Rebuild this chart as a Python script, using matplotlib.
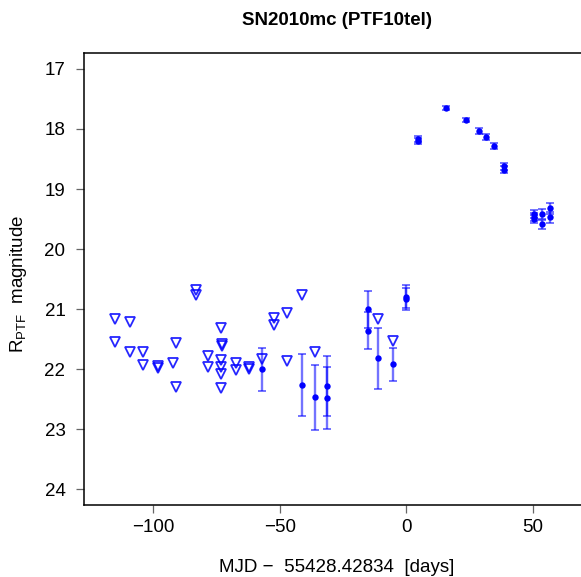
import matplotlib
matplotlib.use("Agg")
import matplotlib.pyplot as plt
import numpy as np

plt.rcParams['font.family'] = ['Liberation Sans', 'DejaVu Sans']
plt.rcParams['mathtext.fontset'] = 'custom'
plt.rcParams['mathtext.rm'] = 'Liberation Sans'
plt.rcParams['mathtext.it'] = 'Liberation Sans'

# Upper limits (days since 55428.42834, magnitude)
lim_t = [-115.1, -115.1, -109.3, -109.3, -104.2, -104.2, -98.3, -98.3,
         -92.1, -91.1, -91.1, -83.2, -83.2, -78.3, -78.3, -73.3, -73.0,
         -73.0, -73.2, -73.2, -73.2, -73.2, -67.3, -67.3, -62.2, -62.2,
         -57.1, -52.2, -52.2, -47.0, -47.0, -41.3, -36.2, -11.2, -5.3]
lim_m = [21.16, 21.54, 21.21, 21.72, 21.72, 21.93, 21.95, 21.98,
         21.90, 21.56, 22.30, 20.68, 20.76, 21.78, 21.96, 21.32, 21.58,
         21.62, 21.85, 21.96, 22.08, 22.32, 21.89, 22.02, 21.97, 22.00,
         21.83, 21.14, 21.26, 21.06, 21.86, 20.77, 21.71, 21.17, 21.53]

# Detections
det_t = [-57.1, -41.3, -36.2, -31.2, -31.2, -15.1, -15.1, -11.3, -5.3,
         -0.1, -0.1,
         4.7, 4.7, 15.7, 23.8, 28.7, 31.7, 34.7, 38.7, 38.7,
         50.7, 50.7, 50.7, 53.7, 53.7, 56.7, 56.7]
det_m = [22.00, 22.26, 22.47, 22.28, 22.48, 21.00, 21.36, 21.82, 21.92,
         20.79, 20.83,
         18.17, 18.20, 17.65, 17.85, 18.04, 18.13, 18.28, 18.62, 18.68,
         19.42, 19.47, 19.50, 19.42, 19.59, 19.32, 19.47]
det_e = [0.36, 0.51, 0.54, 0.50, 0.51, 0.31, 0.31, 0.51, 0.28,
         0.19, 0.19,
         0.05, 0.05, 0.04, 0.04, 0.05, 0.05, 0.05, 0.06, 0.06,
         0.07, 0.07, 0.07, 0.08, 0.08, 0.09, 0.09]

W, H = 581, 577
fig = plt.figure(figsize=(W / 100, H / 100), dpi=100)
left, right, top, bottom = 83.5, 590.5, 52.7, 505.0
ax = fig.add_axes([left / W, 1 - bottom / H, (right - left) / W, (bottom - top) / H])

ax.errorbar(det_t, det_m, yerr=det_e, fmt='none', ecolor=(0, 0, 1, 0.55),
            elinewidth=1.7, capsize=3.0, capthick=1.4)
ax.plot(det_t, det_m, 'o', color='#0000ff', markersize=4.6, markeredgewidth=0)
ax.plot(lim_t, lim_m, 'v', markerfacecolor='none', markeredgecolor=(0, 0, 1, 0.85),
        markersize=7.2, markeredgewidth=1.3, linestyle='none')

ax.set_xlim(-127.6, 72.9)
ax.set_ylim(24.26, 16.73)
ax.set_xticks([-100, -50, 0, 50])
ax.set_yticks(np.arange(17, 25))

ax.spines['right'].set_visible(False)
for s in ['left', 'top', 'bottom']:
    ax.spines[s].set_linewidth(1.1)
ax.tick_params(axis='both', direction='out', length=6, width=0.9, color='#666666',
               labelsize=13.5)
ax.tick_params(axis='y', pad=7)
ax.tick_params(axis='x', pad=4)

fig.text(337 / W, 1 - 25 / H, 'SN2010mc (PTF10tel)', ha='center', va='baseline',
         fontsize=13.5, fontweight='bold')
fig.text(337 / W, 1 - 572 / H, 'MJD \u2212  55428.42834  [days]', ha='center',
         va='baseline', fontsize=13.5)
fig.text(19 / W, 1 - 284 / H, r'R$_{\mathregular{PTF}}$  magnitude', ha='center',
         va='center', rotation=90, fontsize=13.5)

fig.savefig('out.png', dpi=100)
